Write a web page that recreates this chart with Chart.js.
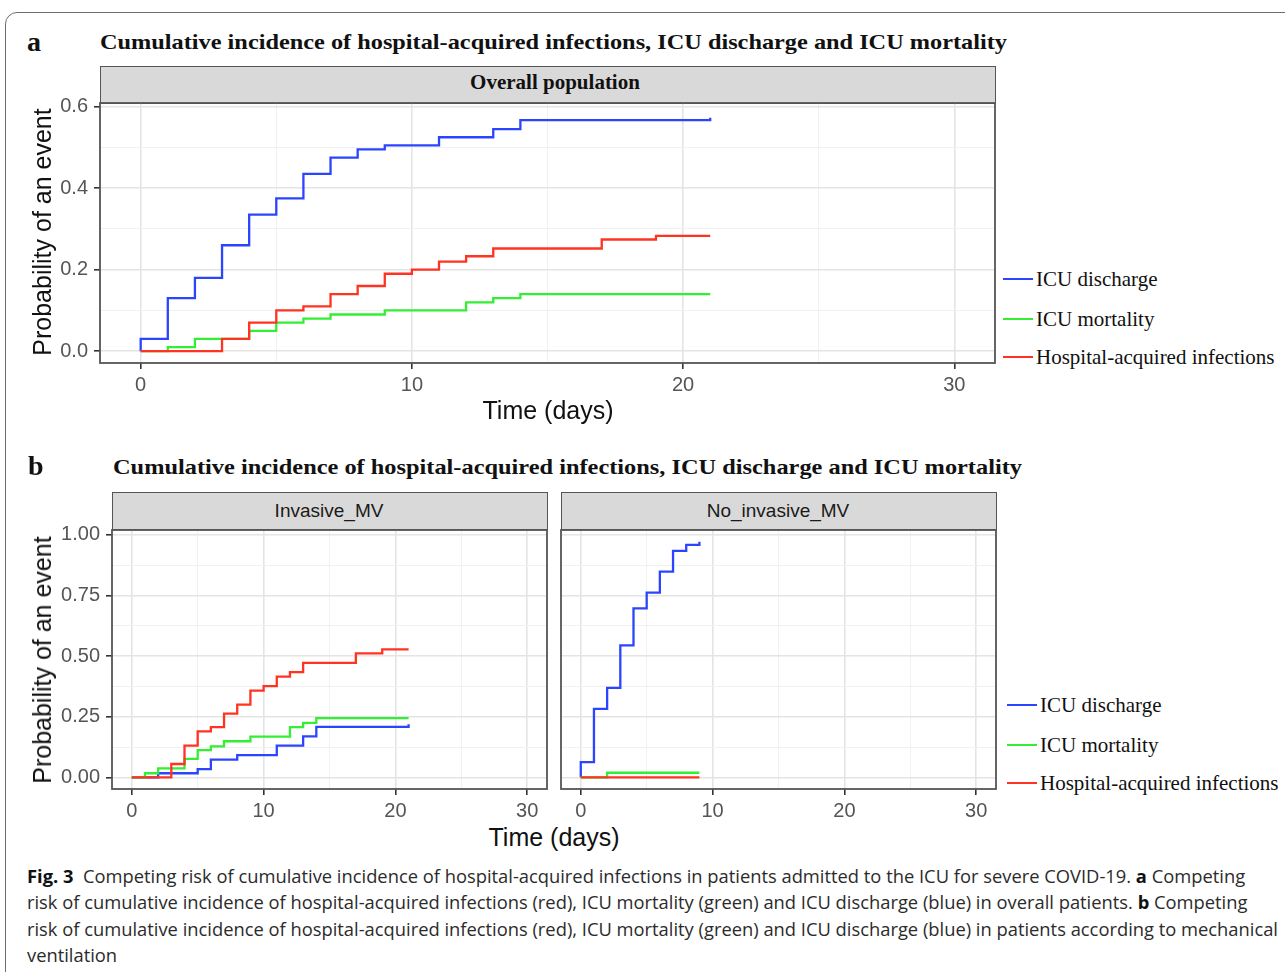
<!DOCTYPE html>
<html>
<head>
<meta charset="utf-8">
<script src="https://cdn.jsdelivr.net/npm/chart.js@4.4.1/dist/chart.umd.min.js"></script>
<style>
  body { margin: 0; width: 1285px; height: 972px; background: #fff; position: relative; overflow: hidden; }
  .abs { position: absolute; white-space: nowrap; }
  .frame { position: absolute; left: 5px; top: 12px; width: 1330px; height: 1000px;
           border: 1px solid #6e6e6e; border-radius: 12px; }
  .letter { font-family: "Liberation Serif", serif; font-weight: bold; font-size: 28px;
            color: #111; line-height: 30px; }
  .title { font-family: "Liberation Serif", serif; font-weight: bold; font-size: 21px;
           color: #111; line-height: 26px; transform-origin: 0 50%; }
  .strip { position: absolute; background: #d9d9d9; border: 1.8px solid #555; box-sizing: border-box; }
  .strip-serif { font-family: "Liberation Serif", serif; font-weight: bold; font-size: 21px; color: #111; line-height: 26px; }
  .strip-sans { font-family: "Liberation Sans", Arial, sans-serif; font-size: 19px; color: #1a1a1a; line-height: 22px; }
  .axis-title { font-family: "Liberation Sans", Arial, sans-serif; font-size: 25px; color: #111; line-height: 28px; }
  .legend { font-family: "Liberation Serif", serif; font-size: 21px; color: #111; line-height: 24px; }
  .legend-line { position: absolute; width: 30px; height: 2px; }
  .caption { font-family: "Open Sans", "Noto Sans", sans-serif; font-size: 18px; color: #2b2b2b;
             line-height: 24px; transform-origin: 0 50%; }
  .caption b { color: #111; }
  canvas { position: absolute; }
</style>
</head>
<body>
<div class="frame"></div>

<div class="abs letter" style="left:27px; top:27px;">a</div>
<div id="title_a" class="abs title" style="left:100px; top:29px;">Cumulative incidence of hospital-acquired infections, ICU discharge and ICU mortality</div>
<div class="strip" style="left:100px; top:66px; width:896px; height:38px;"></div>
<div class="abs strip-serif" style="left:555px; top:69px; transform:translateX(-50%);">Overall population</div>
<canvas id="chart_a" width="957" height="321" style="left:40px; top:79px;"></canvas>
<div class="abs axis-title" style="left:42px; top:232px; transform:translate(-50%,-50%) rotate(-90deg);">Probability of an event</div>
<div class="abs axis-title" style="left:548px; top:410px; transform:translate(-50%,-50%);">Time (days)</div>
<div id="legend_a"></div>

<div class="abs letter" style="left:28px; top:451px;">b</div>
<div id="title_b" class="abs title" style="left:113px; top:454px;">Cumulative incidence of hospital-acquired infections, ICU discharge and ICU mortality</div>
<div class="strip" style="left:112px; top:492px; width:436px; height:38px;"></div>
<div class="abs strip-sans" style="left:329px; top:500px; transform:translateX(-50%);">Invasive_MV</div>
<div class="strip" style="left:561px; top:492px; width:436px; height:38px;"></div>
<div class="abs strip-sans" style="left:778px; top:500px; transform:translateX(-50%);">No_invasive_MV</div>
<canvas id="chart_b1" width="509" height="313" style="left:40px; top:506px;"></canvas>
<canvas id="chart_b2" width="439" height="313" style="left:559px; top:506px;"></canvas>
<div class="abs axis-title" style="left:42px; top:660px; transform:translate(-50%,-50%) rotate(-90deg);">Probability of an event</div>
<div class="abs axis-title" style="left:554px; top:837px; transform:translate(-50%,-50%);">Time (days)</div>
<div id="legend_b"></div>

<div id="cap1" class="abs caption" style="left:27px; top:864px;"><b>Fig. 3</b>&nbsp; Competing risk of cumulative incidence of hospital-acquired infections in patients admitted to the ICU for severe COVID-19. <b>a</b> Competing</div>
<div id="cap2" class="abs caption" style="left:27px; top:890px;">risk of cumulative incidence of hospital-acquired infections (red), ICU mortality (green) and ICU discharge (blue) in overall patients. <b>b</b> Competing</div>
<div id="cap3" class="abs caption" style="left:27px; top:917px;">risk of cumulative incidence of hospital-acquired infections (red), ICU mortality (green) and ICU discharge (blue) in patients according to mechanical</div>
<div id="cap4" class="abs caption" style="left:27px; top:943px;">ventilation</div>

<script>
//
// axis ticks (minor ticks have an empty label)
//
var xTickValues = [0, 5, 10, 15, 20, 25, 30];
var xTickLabels = ['0', '', '10', '', '20', '', '30'];
var aYTickValues = [0, 0.1, 0.2, 0.3, 0.4, 0.5, 0.6];
var aYTickLabels = ['0.0', '', '0.2', '', '0.4', '', '0.6'];
var bYTickValues = [0, 0.125, 0.25, 0.375, 0.5, 0.625, 0.75, 0.875, 1.0];
var bYTickLabels = ['0.00', '', '0.25', '', '0.50', '', '0.75', '', '1.00'];

//
// series names and colours (legend order)
//
var seriesNames = ['ICU discharge', 'ICU mortality', 'Hospital-acquired infections'];
var seriesColors = ['#2b45ff', '#33ee33', '#ff3322'];

//
// a: overall population
//
var aDischargeDays = [0, 0, 1, 2, 3, 4, 5, 6, 7, 8, 9, 11, 13, 14, 21];
var aDischargeProb = [0, 0.03, 0.13, 0.18, 0.26, 0.335, 0.375, 0.435, 0.475, 0.495, 0.505, 0.525, 0.545, 0.567, 0.573];
var aMortalityDays = [0, 1, 2, 4, 5, 6, 7, 9, 12, 13, 14, 21];
var aMortalityProb = [0, 0.01, 0.03, 0.05, 0.07, 0.08, 0.09, 0.1, 0.12, 0.13, 0.14, 0.14];
var aInfectionDays = [0, 3, 4, 5, 6, 7, 8, 9, 10, 11, 12, 13, 17, 19, 21];
var aInfectionProb = [0, 0.03, 0.07, 0.1, 0.11, 0.14, 0.16, 0.19, 0.2, 0.22, 0.233, 0.252, 0.274, 0.283, 0.283];

//
// b: invasive mechanical ventilation
//
var invDischargeDays = [0, 2, 5, 6, 8, 11, 13, 14, 21];
var invDischargeProb = [0, 0.017, 0.034, 0.073, 0.092, 0.131, 0.169, 0.208, 0.219];
var invMortalityDays = [0, 1, 2, 4, 5, 6, 7, 9, 12, 13, 14, 21];
var invMortalityProb = [0, 0.017, 0.037, 0.076, 0.112, 0.128, 0.149, 0.168, 0.207, 0.225, 0.244, 0.244];
var invInfectionDays = [0, 3, 4, 5, 6, 7, 8, 9, 10, 11, 12, 13, 17, 19, 21];
var invInfectionProb = [0, 0.055, 0.131, 0.19, 0.207, 0.263, 0.3, 0.358, 0.376, 0.415, 0.434, 0.472, 0.511, 0.528, 0.528];

//
// b: no invasive mechanical ventilation
//
var noDischargeDays = [0, 0, 1, 2, 3, 4, 5, 6, 7, 8, 9];
var noDischargeProb = [0, 0.063, 0.282, 0.369, 0.544, 0.697, 0.762, 0.848, 0.934, 0.959, 0.972];
var noMortalityDays = [0, 2, 9];
var noMortalityProb = [0, 0.019, 0.019];
var noInfectionDays = [0, 9];
var noInfectionProb = [0, 0];

var xMin = -1.5;
var xMax = 31.5;

// panel border like ggplot theme_bw
var panelBorder = {
  id: 'panelBorder',
  afterDraw: function(chart) {
    var a = chart.chartArea;
    var c = chart.ctx;
    c.save();
    c.strokeStyle = '#555';
    c.lineWidth = 1.8;
    c.strokeRect(a.left, a.top, a.right - a.left, a.bottom - a.top);
    c.restore();
  }
};

function toPoints(days, prob) {
  return days.map(function(d, i) { return {x: d, y: prob[i]}; });
}

function makeSet(idx, days, prob) {
  return {
    label: seriesNames[idx],
    data: toPoints(days, prob),
    borderColor: seriesColors[idx],
    borderWidth: 2.3,
    stepped: 'before',
    pointRadius: 0,
    fill: false
  };
}

function gridOpts(labels, showTicks) {
  return {
    color: function(ctx) { return labels[ctx.index] === '' ? '#f1f1f1' : '#e4e4e4'; },
    lineWidth: function(ctx) { return labels[ctx.index] === '' ? 1 : 1.6; },
    tickColor: function(ctx) { return (showTicks && labels[ctx.index] !== '') ? '#333' : 'rgba(0,0,0,0)'; },
    tickLength: showTicks ? 6 : 0,
    drawTicks: showTicks
  };
}

function makeChart(canvasId, sets, yMin, yMax, yTicks, yLabels, yWidth, xHeight, showY, padLeft) {
  var ctx = document.getElementById(canvasId).getContext('2d');
  return new Chart(ctx, {
    type: 'line',
    data: {datasets: sets},
    options: {
      responsive: false,
      animation: false,
      layout: {padding: {top: 24, right: 2, left: padLeft, bottom: 0}},
      plugins: {legend: {display: false}, tooltip: {enabled: false}},
      scales: {
        x: {
          type: 'linear',
          min: xMin,
          max: xMax,
          afterBuildTicks: function(s) { s.ticks = xTickValues.map(function(v) { return {value: v}; }); },
          afterFit: function(s) { s.height = xHeight; },
          ticks: {
            autoSkip: false,
            maxRotation: 0,
            padding: 4,
            color: '#555',
            font: {family: 'Liberation Sans', size: 20},
            callback: function(v, i) { return xTickLabels[i]; }
          },
          grid: gridOpts(xTickLabels, true),
          border: {display: false}
        },
        y: {
          type: 'linear',
          min: yMin,
          max: yMax,
          afterBuildTicks: function(s) { s.ticks = yTicks.map(function(v) { return {value: v}; }); },
          afterFit: function(s) { s.width = yWidth; },
          ticks: {
            display: showY,
            autoSkip: false,
            padding: 6,
            color: '#555',
            font: {family: 'Liberation Sans', size: 20},
            callback: function(v, i) { return yLabels[i]; }
          },
          grid: gridOpts(yLabels, showY),
          border: {display: false}
        }
      }
    },
    plugins: [panelBorder]
  });
}

function makeLegend(id, lineLeft, centers) {
  var box = document.getElementById(id);
  var html = '';
  for (var i = 0; i < seriesNames.length; i++) {
    html += '<div class="legend-line" style="left:' + lineLeft + 'px; top:' + (centers[i] - 1) +
            'px; background:' + seriesColors[i] + ';"></div>';
    html += '<div class="abs legend" style="left:' + (lineLeft + 33) + 'px; top:' + (centers[i] - 12) +
            'px;">' + seriesNames[i] + '</div>';
  }
  box.innerHTML = html;
}

function fitWidth(id, w) {
  var el = document.getElementById(id);
  var natural = el.getBoundingClientRect().width;
  var k = w / natural;
  el.style.transform = 'scaleX(' + k + ')';
  return k;
}

function init_page() {
  // red drawn last (on top), so it is the first dataset
  makeChart('chart_a', [
    makeSet(2, aInfectionDays, aInfectionProb),
    makeSet(1, aMortalityDays, aMortalityProb),
    makeSet(0, aDischargeDays, aDischargeProb)
  ], -0.029, 0.609, aYTickValues, aYTickLabels, 60, 37, true, 0);

  makeChart('chart_b1', [
    makeSet(2, invInfectionDays, invInfectionProb),
    makeSet(1, invMortalityDays, invMortalityProb),
    makeSet(0, invDischargeDays, invDischargeProb)
  ], -0.048, 1.02, bYTickValues, bYTickLabels, 72, 30, true, 0);

  makeChart('chart_b2', [
    makeSet(2, noInfectionDays, noInfectionProb),
    makeSet(1, noMortalityDays, noMortalityProb),
    makeSet(0, noDischargeDays, noDischargeProb)
  ], -0.048, 1.02, bYTickValues, bYTickLabels, 0, 30, false, 2);

  makeLegend('legend_a', 1003, [279, 319, 357]);
  makeLegend('legend_b', 1007, [705, 745, 783]);

  fitWidth('title_a', 907);
  fitWidth('title_b', 909);
  var k = fitWidth('cap3', 1251);
  document.getElementById('cap1').style.transform = 'scaleX(' + k + ')';
  document.getElementById('cap2').style.transform = 'scaleX(' + k + ')';
  document.getElementById('cap4').style.transform = 'scaleX(' + k + ')';
}

init_page();
</script>
</body>
</html>
